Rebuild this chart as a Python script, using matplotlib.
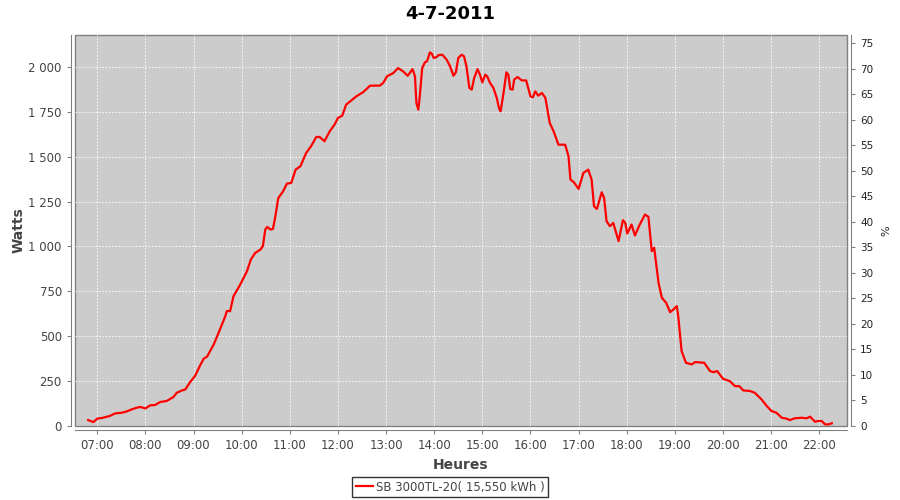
import matplotlib
matplotlib.use("Agg")
import matplotlib.pyplot as plt
from matplotlib.ticker import FuncFormatter

# production of 4-7-2011, time in decimal hours, power in watts
hours = [6.81, 6.92, 7.0, 7.12, 7.26, 7.37, 7.51, 7.6, 7.72, 7.82, 7.89, 8.0, 8.1, 8.2,
         8.31, 8.44, 8.58, 8.65, 8.76, 8.83, 8.93, 9.03, 9.13, 9.21, 9.28, 9.42, 9.52,
         9.59, 9.66, 9.69, 9.76, 9.83, 9.89, 9.97, 10.11, 10.19, 10.28, 10.39, 10.44,
         10.49, 10.53, 10.6, 10.65, 10.7, 10.76, 10.86, 10.94, 11.03, 11.12, 11.22,
         11.34, 11.44, 11.55, 11.62, 11.72, 11.83, 11.93, 12.0, 12.09, 12.17, 12.28,
         12.38, 12.52, 12.67, 12.87, 12.94, 13.02, 13.15, 13.25, 13.35, 13.45, 13.55,
         13.6, 13.63, 13.67, 13.7, 13.75, 13.81, 13.85, 13.91, 13.95, 13.99, 14.05,
         14.09, 14.17, 14.26, 14.33, 14.4, 14.45, 14.5, 14.57, 14.62, 14.67, 14.73,
         14.78, 14.83, 14.9, 14.95, 15.0, 15.06, 15.1, 15.16, 15.23, 15.3, 15.35,
         15.38, 15.44, 15.5, 15.54, 15.58, 15.63, 15.66, 15.73, 15.82, 15.91, 16.0,
         16.05, 16.1, 16.16, 16.24, 16.31, 16.4, 16.48, 16.58, 16.72, 16.79, 16.83,
         16.9, 17.0, 17.1, 17.2, 17.27, 17.32, 17.38, 17.48, 17.53, 17.58, 17.65,
         17.72, 17.83, 17.92, 17.97, 18.01, 18.1, 18.17, 18.26, 18.38, 18.45, 18.52,
         18.57, 18.66, 18.73, 18.82, 18.9, 18.97, 19.04, 19.07, 19.14, 19.23, 19.35,
         19.42, 19.61, 19.73, 19.8, 19.88, 20.0, 20.14, 20.25, 20.34, 20.42, 20.56,
         20.66, 20.8, 20.91, 21.01, 21.11, 21.22, 21.32, 21.39, 21.49, 21.63, 21.74,
         21.81, 21.91, 21.98, 22.05, 22.12, 22.19, 22.26]
watts = [33, 22, 41, 46, 56, 70, 74, 80, 93, 102, 106, 98, 115, 117,
         134, 139, 161, 185, 198, 204, 245, 278, 334, 375, 386, 455, 519,
         566, 612, 640, 640, 723, 751, 788, 862, 927, 964, 983, 1002,
         1094, 1109, 1094, 1098, 1168, 1270, 1307, 1350, 1354, 1428, 1447,
         1521, 1558, 1610, 1610, 1586, 1642, 1679, 1716, 1729, 1790, 1814,
         1836, 1859, 1896, 1896, 1911, 1948, 1966, 1994, 1976, 1951, 1988,
         1948, 1799, 1762, 1836, 1994, 2027, 2031, 2081, 2074, 2050, 2055,
         2066, 2068, 2040, 2003, 1951, 1970, 2050, 2068, 2059, 2003, 1883,
         1874, 1938, 1988, 1957, 1914, 1957, 1948, 1911, 1883, 1827, 1766,
         1753, 1855, 1970, 1957, 1877, 1874, 1929, 1944, 1925, 1925, 1836,
         1831, 1864, 1840, 1855, 1827, 1688, 1642, 1567, 1567, 1503, 1373,
         1358, 1321, 1410, 1428, 1373, 1224, 1209, 1302, 1270, 1141, 1113,
         1131, 1030, 1146, 1131, 1072, 1122, 1061, 1117, 1178, 1165, 974,
         993, 798, 714, 686, 634, 649, 668, 612, 417, 352, 343,
         356, 352, 306, 300, 306, 263, 250, 222, 222, 198, 195,
         185, 148, 111, 83, 74, 46, 41, 33, 43, 46, 43,
         52, 24, 28, 28, 9, 9, 15]

hour_ticks = list(range(7, 23))
hour_labels = ["%02d:00" % h for h in hour_ticks]
watt_ticks = [0, 250, 500, 750, 1000, 1250, 1500, 1750, 2000]
pct_ticks = list(range(0, 80, 5))

title = "4-7-2011"
legend_label = "SB 3000TL-20( 15,550 kWh )"

axis_grey = "#808080"
text_grey = "#444444"

fig = plt.figure(figsize=(9, 5), dpi=100)
ax = fig.add_axes([75 / 900, 1 - 426 / 500, 772 / 900, 391 / 500])
ax.patch.set_facecolor("#cccccc")
ax.patch.set_edgecolor(axis_grey)
ax.patch.set_linewidth(1.0)

line, = ax.plot(hours, watts, color="red", lw=1.6)

ax.set_xlim(6.537, 22.576)
ax.set_ylim(0, 2178)
ax.set_xticks(hour_ticks)
ax.set_xticklabels(hour_labels)
ax.set_yticks(watt_ticks)
ax.yaxis.set_major_formatter(FuncFormatter(lambda v, p: ("{:,}".format(int(v))).replace(",", " ")))
ax.grid(True, color="white", ls=(0, (2, 2)), lw=0.6)
ax.set_axisbelow(True)

for s in ["top", "right"]:
    ax.spines[s].set_visible(False)
for s in ["left", "bottom"]:
    ax.spines[s].set_position(("outward", 3))
    ax.spines[s].set_color(axis_grey)
ax.tick_params(colors=axis_grey, labelcolor=text_grey, labelsize=8.5, length=3, width=0.8)

ax.set_xlabel("Heures", fontsize=10, fontweight="bold", color=text_grey, labelpad=4)
ax.set_ylabel("Watts", fontsize=10, fontweight="bold", color=text_grey, labelpad=2)

ax2 = ax.twinx()
ax2.set_ylim(0, 76.6)
ax2.set_yticks(pct_ticks)
for s in ["top", "left", "bottom"]:
    ax2.spines[s].set_visible(False)
ax2.spines["right"].set_position(("outward", 3))
ax2.spines["right"].set_color(axis_grey)
ax2.tick_params(colors=axis_grey, labelcolor="#222222", labelsize=7.5, length=3, width=0.8)
ax2.set_ylabel("%", fontsize=8, color="#222222", labelpad=6)

fig.text(0.5, 1 - 14 / 500, title, ha="center", va="center", fontsize=13, fontweight="bold")

leg = fig.legend([line], [legend_label], loc="center", bbox_to_anchor=(0.5, 1 - 487 / 500),
                 fontsize=8.5, frameon=True, fancybox=False, handlelength=1.5,
                 handletextpad=0.2, borderpad=0.3, borderaxespad=0)
leg.get_frame().set_edgecolor("black")
leg.get_frame().set_linewidth(1.0)
for t in leg.get_texts():
    t.set_color(text_grey)

fig.savefig("out.png", dpi=100, facecolor="white")
